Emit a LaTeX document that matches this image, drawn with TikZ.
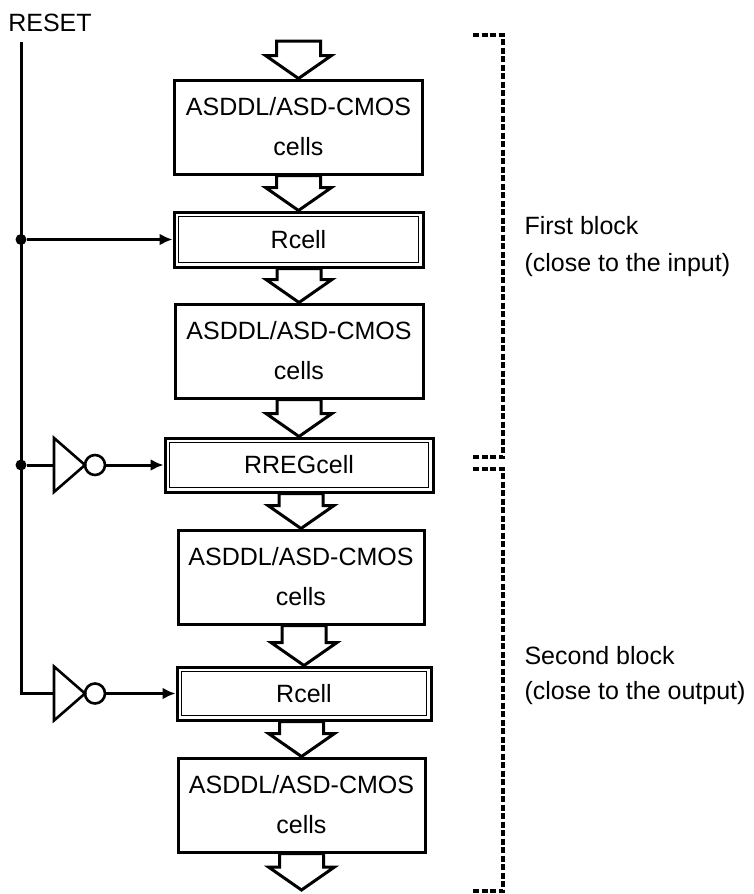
\documentclass[tikz,border=0pt]{standalone}
\usepackage{fontspec}
\setmainfont{Liberation Sans}
\usetikzlibrary{positioning,calc,arrows.meta}

\begin{document}
\begin{tikzpicture}[x=1pt, y=-1pt, font=\fontsize{25}{30}\selectfont,
  cellbox/.style={draw, line width=3pt, fill=white, minimum width=248pt,
    minimum height=94pt, inner sep=0pt, align=center,
    font=\fontsize{25}{40}\selectfont},
  regbox/.style={draw, line width=3pt, fill=white, inner sep=0pt,
    path picture={\draw[line width=1.3pt]
      ([shift={(4.8pt,4.8pt)}]path picture bounding box.south west) rectangle
      ([shift={(-4.8pt,-4.8pt)}]path picture bounding box.north east);}},
  wire/.style={line width=3pt},
  sig/.style={wire, -{Latex[length=13pt,width=12pt]}},
  notgate/.style={line width=2.6pt, line join=miter},
  bubble/.style={draw, line width=2.6pt, circle, minimum size=20pt, inner sep=0pt},
  junction/.style={circle, fill, minimum size=11pt, inner sep=0pt},
  bracket/.style={line width=3.5pt, dash pattern=on 6pt off 2.5pt},
]

\def\busx{21}   % x of the RESET line
\def\gatex{54}  % x of the inverter inputs
\def\bubx{95}   % x of the inverter bubbles

% ---------------- helper: wide block arrow ----------------
\newcommand{\flowarrow}[2]{%
  \draw[line width=3pt, fill=white]
    ($(#2|-#1)+(-22,0)$) -- ($(#2)+(-22,-23)$) -- ($(#2)+(-33,-23)$) -- (#2)
    -- ($(#2)+(33,-23)$) -- ($(#2)+(22,-23)$) -- ($(#2|-#1)+(22,0)$) -- cycle;
}
% ---------------- helper: inverter triangle ----------------
\newcommand{\invtri}[1]{%
  \draw[notgate] ($(#1)+(0,-27)$) -- ($(#1)+(31,0)$) -- ($(#1)+(0,27)$) -- cycle;
}

\useasboundingbox (0,0) rectangle (753,894);

% =========== cell chain ===========
\node[cellbox] (cellsA) at (298.5,127) {ASDDL/ASD-CMOS\\cells};
\node[regbox, minimum width=249pt, minimum height=55pt] (rcellA) at (298.5,239.5) {Rcell};
\node[cellbox] (cellsB) at (299,351) {ASDDL/ASD-CMOS\\cells};
\node[regbox, minimum width=268pt, minimum height=54pt] (rreg) at (299,465) {RREGcell};
\node[cellbox, minimum width=246pt] (cellsC) at (301,577) {ASDDL/ASD-CMOS\\cells};
\node[regbox, minimum width=254pt, minimum height=53pt] (rcellB) at (304,693.5) {Rcell};
\node[cellbox, minimum width=247pt] (cellsD) at (301.5,805) {ASDDL/ASD-CMOS\\cells};

\coordinate (srcTop) at (298.5,41);
\coordinate (sink) at (301.5,890);

\flowarrow{srcTop}{cellsA.north}
\flowarrow{cellsA.south}{rcellA.north}
\flowarrow{rcellA.south}{cellsB.north}
\flowarrow{cellsB.south}{rreg.north}
\flowarrow{rreg.south}{cellsC.north}
\flowarrow{cellsC.south}{rcellB.north}
\flowarrow{rcellB.south}{cellsD.north}
\flowarrow{cellsD.south}{sink}

% =========== RESET distribution ===========
\node (reset) at (50,23) {RESET};
\coordinate (busTop) at (\busx,42);
\coordinate (busEnd) at (\busx,693.5);
\node[junction] (dotA) at (\busx,239.5) {};
\node[junction] (dotB) at (\busx,465) {};

\coordinate (invA) at (\gatex,465);
\coordinate (invB) at (\gatex,693.5);
\invtri{invA}
\invtri{invB}
\node[bubble] (bubA) at (\bubx,465) {};
\node[bubble] (bubB) at (\bubx,693.5) {};

\draw[wire] (busTop) -- (busEnd) -- (invB);
\draw[sig] (dotA) -- (rcellA.west);
\draw[wire] (dotB) -- (invA);
\draw[sig] (bubA.east) -- (rreg.west);
\draw[sig] (bubB.east) -- (rcellB.west);

% =========== block brackets ===========
\draw[bracket] (473,35) -- (503,35) -- (503,457) -- (473,457);
\draw[bracket] (473,469) -- (503,469) -- (503,891) -- (473,891);

\node[anchor=west, align=left, font=\fontsize{25}{37}\selectfont] (firstLbl)
  at (521,246.5) {First block\\(close to the input)};
\node[anchor=west, align=left, font=\fontsize{25}{35}\selectfont] (secondLbl)
  at (521,675.5) {Second block\\(close to the output)};

\end{tikzpicture}
\end{document}
